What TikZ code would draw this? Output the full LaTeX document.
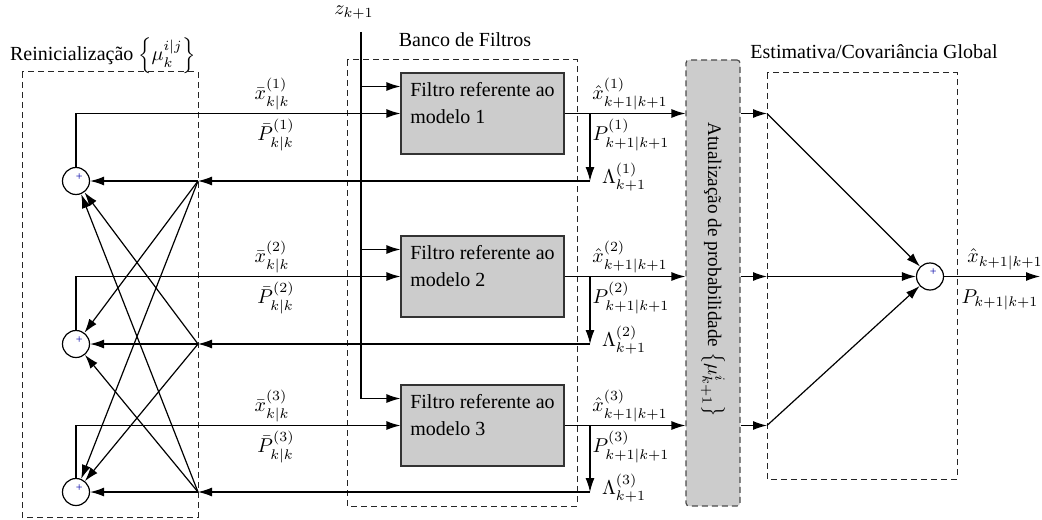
\documentclass[tikz,border=0pt]{standalone}
\usepackage{fontspec}
\setmainfont{Liberation Serif}
\usetikzlibrary{arrows.meta,calc}

\begin{document}
\begin{tikzpicture}[x=0.5pt,y=-0.5pt,
  font=\fontsize{10}{13.5}\selectfont,
  line width=0.6pt,
  >={Latex[length=7pt,width=4.5pt]},
  frame/.style={draw=black!85, line width=0.5pt, dash pattern=on 3pt off 2pt},
  filterbox/.style={draw=black!80, fill=black!20, minimum width=81.5pt,
    minimum height=40.5pt, align=left, inner sep=0pt},
  updbox/.style={draw=black!70, fill=black!20, line width=0.6pt,
    dash pattern=on 3pt off 2pt, rounded corners=1.5pt,
    minimum width=27pt, minimum height=223pt, inner sep=0pt},
  sumnode/.style={circle, draw, fill=white, minimum size=13.5pt, inner sep=0pt,
    label={[shift={(1.6pt,2pt)}, inner sep=0pt, text=blue!65!black,
      font=\fontsize{6}{6}\selectfont]center:+}},
  lbl/.style={inner sep=0pt}
]
\useasboundingbox (0,0) rectangle (1042,519);

% dashed group frames
\draw[frame] (22,72) rectangle (198,517);
\draw[frame] (347,60) rectangle (577,506);
\draw[frame] (767,73) rectangle (957,479);

% group titles
\node[lbl] (treinit) at (103,56) {Reinicializa\c{c}\~ao $\left\{\mu_k^{i|j}\right\}$};
\node[lbl] (tbank) at (465,40) {Banco de Filtros};
\node[lbl] (tglobal) at (874,52) {Estimativa/Covari\^ancia Global};

% filters
\node[filterbox] (f1) at (482.5,113.5) {Filtro referente ao\\ modelo 1\\[-3pt]};
\node[filterbox] (f2) at (482.5,276.5) {Filtro referente ao\\ modelo 2\\[-3pt]};
\node[filterbox] (f3) at (482.5,425.5) {Filtro referente ao\\ modelo 3\\[-3pt]};

% probability update block
\node[updbox] (upd) at (713,283) {};
\node[lbl, rotate=-90, font=\fontsize{9.6}{12}\selectfont] (tupd) at (713,270)
  {Atualiza\c{c}\~ao de probabilidade $\left\{\mu_{k+1}^{i}\right\}$};

% mixing sums
\node[sumnode] (c1) at (76,181) {};
\node[sumnode] (c2) at (76,344) {};
\node[sumnode] (c3) at (76,492) {};

% global sum
\node[sumnode] (g) at (930,276.5) {};

% measurement input
\node[lbl] (z) at (354,13) {$z_{k+1}$};
\coordinate (ztop) at (361,32);
\coordinate (zi1) at ($(f1.west)+(0,-27)$);
\coordinate (zi2) at ($(f2.west)+(0,-27)$);
\coordinate (zi3) at ($(f3.west)+(0,-27)$);
\draw[->] (ztop) |- (zi3);
\draw[->] (ztop |- zi1) -- (zi1);
\draw[->] (ztop |- zi2) -- (zi2);

% mixed initial conditions into the filters
\draw[->] (c1.north) |- (f1.west);
\draw[->] (c2.north) |- (f2.west);
\draw[->] (c3.north) |- (f3.west);

% filter outputs and likelihoods
\foreach \i/\yo/\yl in {1/113.5/181, 2/276.5/344, 3/425.5/492} {
  \coordinate (b\i) at (590,\yo);
  \coordinate (l\i) at (590,\yl);
  \coordinate (a\i) at (198,\yl);
  \coordinate (r\i) at (767,\yo);
  \draw[->] (f\i.east) -- (upd.west |- f\i.east);
  \draw[->] (b\i) -- (l\i);
  \draw[->] (l\i) -- (a\i);
  \draw[->] (a\i) -- (c\i);
  \draw[->] (upd.east |- r\i) -- (r\i);
  \draw[->] (r\i) -- (g);
}

% cross mixing
\draw[->] (a1) -- (c2);
\draw[->] (a1) -- (c3);
\draw[->] (a2) -- (c1);
\draw[->] (a2) -- (c3);
\draw[->] (a3) -- (c1);
\draw[->] (a3) -- (c2);

% global output
\coordinate (out) at (1040,276.5);
\draw[->] (g) -- (out);
\node[lbl] (xg) at (1005,259) {$\hat{x}_{k+1|k+1}$};
\node[lbl] (pg) at (1000,300) {$P_{k+1|k+1}$};

% signal labels
\foreach \i/\ya/\yb/\yd in {1/94/135/177, 2/257/298/340, 3/406/447/488} {
  \node[lbl] (xb\i) at (272,\ya) {$\bar{x}_{k|k}^{(\i)}$};
  \node[lbl] (pb\i) at (276,\yb) {$\bar{P}_{k|k}^{(\i)}$};
  \node[lbl] (xh\i) at (630,\ya) {$\hat{x}_{k+1|k+1}^{(\i)}$};
  \node[lbl] (ph\i) at (631,\yb) {$P_{k+1|k+1}^{(\i)}$};
  \node[lbl] (lm\i) at (624,\yd) {$\Lambda_{k+1}^{(\i)}$};
}
\end{tikzpicture}
\end{document}
